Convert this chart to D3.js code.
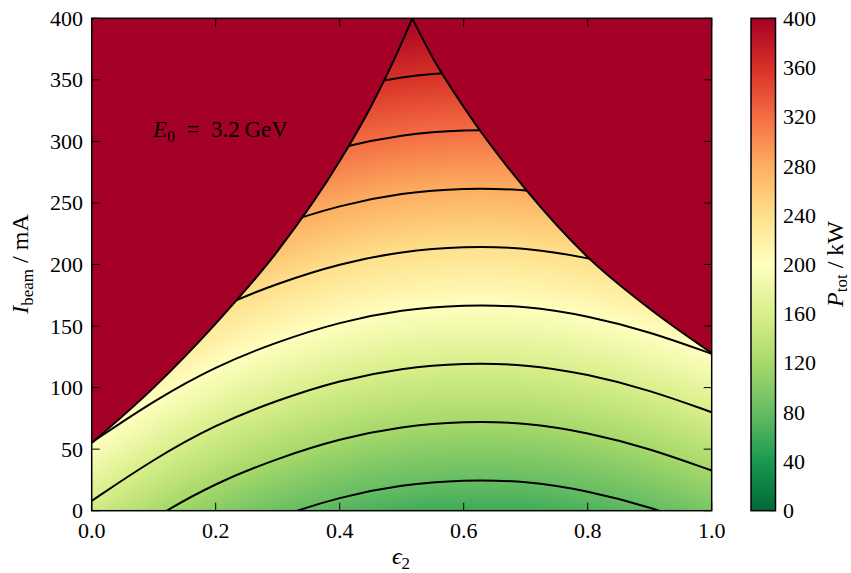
<!DOCTYPE html>
<html>
<head>
<meta charset="utf-8">
<script src="https://cdn.jsdelivr.net/npm/d3@7/dist/d3.min.js"></script>
<style>
    body { margin: 0; background: #fff; }
    svg { display: block; }
    text { font-family: 'Liberation Serif', serif; fill: #000; }
</style>
</head>
<body>
<div id="chart"></div>
<script>
// epsilon_2 sample positions and the 160 kW contour (mA)
const epsValues = [0.0, 0.1, 0.2, 0.3, 0.4, 0.5, 0.6, 0.7, 0.8, 0.9, 1.0];
const contour160 = [8, 42, 70, 90, 106, 116, 120, 119, 111, 98, 80];

// contour levels (kW) and current step between neighbouring levels (mA)
const contourLevels = [80, 120, 160, 200, 240, 280, 320, 360];
const levelStepCurrent = 47.4;

// limit curves: above them the power is clipped to the top of the scale
const leftLimit = [[0.0, 55], [0.1, 100], [0.2, 152], [0.3, 211], [0.4, 284], [0.45, 328], [0.5, 380], [0.517, 400]];
const rightLimit = [[0.517, 400], [0.55, 368], [0.6, 328], [0.7, 261], [0.8, 206], [0.9, 164], [1.0, 128]];

const xTicks = [0, 0.2, 0.4, 0.6, 0.8, 1.0];
const yTicks = [0, 50, 100, 150, 200, 250, 300, 350, 400];
const cbarTicks = [0, 40, 80, 120, 160, 200, 240, 280, 320, 360, 400];

// RdYlGn, reversed (green = low power)
const rdYlGn = ['#a50026', '#d73027', '#f46d43', '#fdae61', '#fee08b', '#ffffbf',
    '#d9ef8b', '#a6d96a', '#66bd63', '#1a9850', '#006837'];

document.addEventListener('DOMContentLoaded', () => {
    const W = 851, H = 573;
    const plot = { left: 91.7, top: 18.3, width: 620, height: 492.4 };
    const cbar = { left: 751, top: 18.3, width: 24.5, height: 492.4 };

    const svg = d3.select('#chart').append('svg')
        .attr('width', W)
        .attr('height', H);

    const x = d3.scaleLinear().domain([0, 1]).range([plot.left, plot.left + plot.width]);
    const y = d3.scaleLinear().domain([0, 400]).range([plot.top + plot.height, plot.top]);

    const colorScale = d3.scaleLinear()
        .domain(d3.range(rdYlGn.length).map(i => i * 400 / (rdYlGn.length - 1)))
        .range(rdYlGn.slice().reverse())
        .clamp(true);

    const base = d3.interpolateBasis(contour160);
    const power = (eps, cur) => 160 + (cur - base(eps)) * 40 / levelStepCurrent;

    // heat map
    const cw = Math.round(plot.width), ch = Math.round(plot.height);
    const canvas = document.createElement('canvas');
    canvas.width = cw;
    canvas.height = ch;
    const ctx = canvas.getContext('2d');
    const img = ctx.createImageData(cw, ch);
    const lut = d3.range(401).map(v => d3.rgb(colorScale(v)));
    for (let i = 0; i < cw; i++) {
        const eps = x.invert(plot.left + i + 0.5);
        for (let j = 0; j < ch; j++) {
            const cur = y.invert(plot.top + j + 0.5);
            const p = Math.max(0, Math.min(400, Math.round(power(eps, cur))));
            const c = lut[p];
            const k = (j * cw + i) * 4;
            img.data[k] = c.r;
            img.data[k + 1] = c.g;
            img.data[k + 2] = c.b;
            img.data[k + 3] = 255;
        }
    }
    ctx.putImageData(img, 0, 0);
    svg.append('image')
        .attr('x', plot.left)
        .attr('y', plot.top)
        .attr('width', plot.width)
        .attr('height', plot.height)
        .attr('preserveAspectRatio', 'none')
        .attr('href', canvas.toDataURL());

    // limit curves and clipped region
    const limitLine = d3.line()
        .x(d => x(d[0]))
        .y(d => y(d[1]))
        .curve(d3.curveMonotoneX);
    const leftPath = limitLine(leftLimit);
    const rightPath = limitLine(rightLimit);

    svg.append('path')
        .attr('d', `M${x(0)},${y(400)}L` + leftPath.slice(1) + 'Z')
        .attr('fill', rdYlGn[0]);
    svg.append('path')
        .attr('d', rightPath + `L${x(1)},${y(400)}Z`)
        .attr('fill', rdYlGn[0]);

    svg.append('clipPath')
        .attr('id', 'valid')
        .append('path')
        .attr('d', `M${x(0)},${y(0)}L` + leftPath.slice(1) + 'L' + rightPath.slice(1) + `L${x(1)},${y(0)}Z`);

    // contour lines
    const contourLine = d3.line()
        .x(d => x(d[0]))
        .y(d => y(d[1]))
        .curve(d3.curveBasis);

    svg.append('g')
        .attr('clip-path', 'url(#valid)')
        .selectAll('path')
        .data(contourLevels)
        .enter().append('path')
        .attr('d', L => contourLine(epsValues.map((e, i) => [e, contour160[i] + (L - 160) / 40 * levelStepCurrent])))
        .attr('fill', 'none')
        .attr('stroke', '#000')
        .attr('stroke-width', 2);

    [leftPath, rightPath].forEach(d => {
        svg.append('path')
            .attr('d', d)
            .attr('fill', 'none')
            .attr('stroke', '#000')
            .attr('stroke-width', 2);
    });

    // frame and ticks
    svg.append('rect')
        .attr('x', plot.left)
        .attr('y', plot.top)
        .attr('width', plot.width)
        .attr('height', plot.height)
        .attr('fill', 'none')
        .attr('stroke', '#000')
        .attr('stroke-width', 1.5);

    const tickLen = 8;
    const ticks = svg.append('g').attr('stroke', '#000').attr('stroke-width', 1);
    xTicks.forEach(t => {
        ticks.append('line').attr('x1', x(t)).attr('x2', x(t))
            .attr('y1', y(0)).attr('y2', y(0) - tickLen);
        ticks.append('line').attr('x1', x(t)).attr('x2', x(t))
            .attr('y1', y(400)).attr('y2', y(400) + tickLen);
    });
    yTicks.forEach(t => {
        ticks.append('line').attr('x1', x(0)).attr('x2', x(0) + tickLen)
            .attr('y1', y(t)).attr('y2', y(t));
        ticks.append('line').attr('x1', x(1)).attr('x2', x(1) - tickLen)
            .attr('y1', y(t)).attr('y2', y(t));
    });

    svg.append('g')
        .selectAll('text')
        .data(xTicks)
        .enter().append('text')
        .attr('x', d => x(d))
        .attr('y', 538)
        .attr('text-anchor', 'middle')
        .attr('font-size', 22)
        .text(d3.format('.1f'));

    svg.append('g')
        .selectAll('text')
        .data(yTicks)
        .enter().append('text')
        .attr('x', 83)
        .attr('y', d => y(d) + 7.5)
        .attr('text-anchor', 'end')
        .attr('font-size', 22)
        .text(d => d);

    // axis labels
    const xLabel = svg.append('text')
        .attr('x', 401)
        .attr('y', 564)
        .attr('text-anchor', 'middle')
        .attr('font-size', 24);
    xLabel.append('tspan').attr('font-style', 'italic').text('ϵ');
    xLabel.append('tspan').attr('font-size', 17).attr('dy', 5).text('2');

    const yLabel = svg.append('text')
        .attr('transform', 'translate(28,264) rotate(-90)')
        .attr('text-anchor', 'middle')
        .attr('font-size', 24);
    yLabel.append('tspan').attr('font-style', 'italic').text('I');
    yLabel.append('tspan').attr('font-size', 17).attr('dy', 5).text('beam');
    yLabel.append('tspan').attr('dy', -5).text(' / mA');

    // annotation
    const note = svg.append('text')
        .attr('x', 153)
        .attr('y', 137)
        .attr('font-size', 23);
    note.append('tspan').attr('font-style', 'italic').text('E');
    note.append('tspan').attr('font-size', 16).attr('dy', 5).text('0');
    note.append('tspan').attr('dy', -5).text('\u2002=\u20023.2\u2009GeV');

    // colour bar
    const grad = svg.append('defs').append('linearGradient')
        .attr('id', 'cbarGrad')
        .attr('x1', 0).attr('y1', 1).attr('x2', 0).attr('y2', 0);
    rdYlGn.slice().reverse().forEach((c, i) => {
        grad.append('stop')
            .attr('offset', i / (rdYlGn.length - 1))
            .attr('stop-color', c);
    });

    const yc = d3.scaleLinear().domain([0, 400]).range([cbar.top + cbar.height, cbar.top]);

    svg.append('rect')
        .attr('x', cbar.left)
        .attr('y', cbar.top)
        .attr('width', cbar.width)
        .attr('height', cbar.height)
        .attr('fill', 'url(#cbarGrad)')
        .attr('stroke', '#000')
        .attr('stroke-width', 1.5);

    cbarTicks.forEach(t => {
        ticks.append('line')
            .attr('x1', cbar.left + cbar.width).attr('x2', cbar.left + cbar.width - 6)
            .attr('y1', yc(t)).attr('y2', yc(t));
    });

    svg.append('g')
        .selectAll('text')
        .data(cbarTicks)
        .enter().append('text')
        .attr('x', 783)
        .attr('y', d => yc(d) + 7.5)
        .attr('font-size', 22)
        .text(d => d);

    const cLabel = svg.append('text')
        .attr('transform', 'translate(843,264) rotate(-90)')
        .attr('text-anchor', 'middle')
        .attr('font-size', 24);
    cLabel.append('tspan').attr('font-style', 'italic').text('P');
    cLabel.append('tspan').attr('font-size', 17).attr('dy', 4).text('tot');
    cLabel.append('tspan').attr('dy', -4).text(' / kW');
});
</script>
</body>
</html>
